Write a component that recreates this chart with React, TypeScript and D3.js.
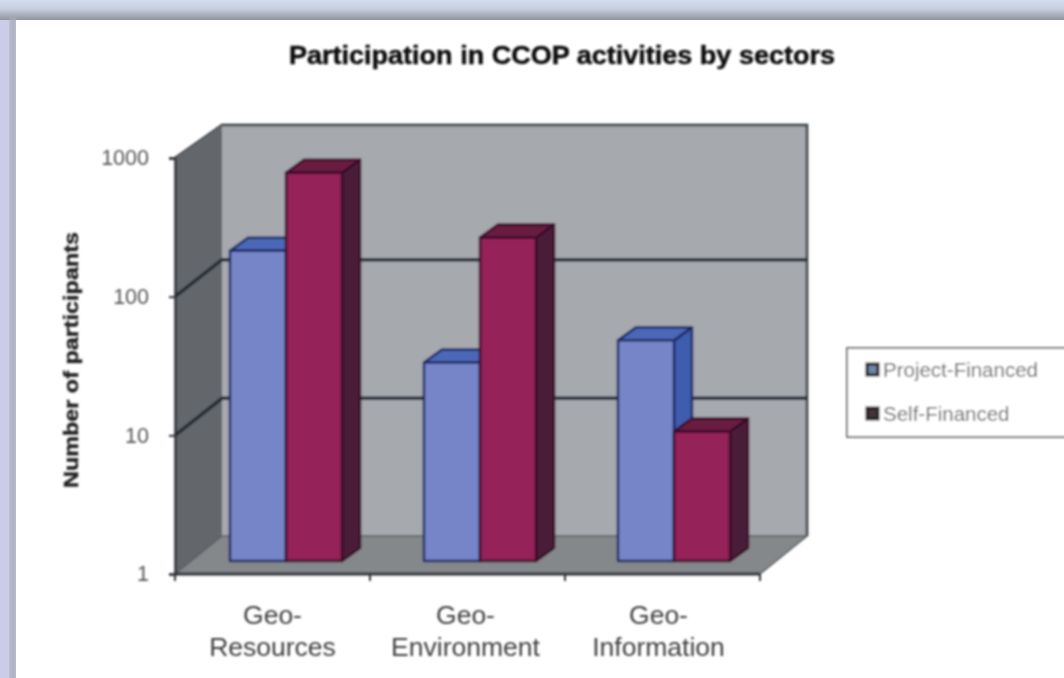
import * as d3 from "d3";
import { useEffect, useRef } from "react";

const title = "Participation in CCOP activities by sectors";
const yLabel = "Number of participants";
const categories = ["Geo-Resources", "Geo-Environment", "Geo-Information"];
const seriesNames = ["Project-Financed", "Self-Financed"];
const projectFinanced = [173, 27, 39];
const selfFinanced = [630, 215, 8.6];
const yTicks = [1, 10, 100, 1000];

const colors = [
  { front: "#7585c8", top: "#4c68b8", side: "#3f5cae", line: "#1d2a66", swatch: "#6f86a8" },
  { front: "#952458", top: "#6a1a40", side: "#4a1c38", line: "#3a0a2a", swatch: "#44303a" },
];

const App = () => {
  const svgRef = useRef<SVGSVGElement | null>(null);

  useEffect(() => {
    const width = 1064;
    const height = 678;
    const plot = { left: 175, right: 760, top: 158, bottom: 574 };
    const wallDx = 47;
    const wallDy = -37;
    const wallTop = 125;
    const wallBottom = 536;
    const barDx = 13.5;
    const barDy = -13;
    const depthDx = 18;
    const depthDy = -13;
    const font = "'Liberation Sans', Arial, sans-serif";

    const svg = d3.select(svgRef.current);
    svg.selectAll("*").remove();

    // Soft blur, the reference is a low quality screenshot
    const defs = svg.append("defs");
    defs
      .append("filter")
      .attr("id", "soft")
      .append("feGaussianBlur")
      .attr("stdDeviation", 0.8);
    defs
      .append("filter")
      .attr("id", "softFrame")
      .append("feGaussianBlur")
      .attr("stdDeviation", 2.5);
    const frameGrad = defs
      .append("linearGradient")
      .attr("id", "frame")
      .attr("x1", 0)
      .attr("x2", 0)
      .attr("y1", 0)
      .attr("y2", 1);
    frameGrad.append("stop").attr("offset", 0).attr("stop-color", "#d5deee");
    frameGrad.append("stop").attr("offset", 0.45).attr("stop-color", "#c6cfe0");
    frameGrad.append("stop").attr("offset", 1).attr("stop-color", "#8f949c");

    // Window frame behind the chart
    const frame = svg.append("g");
    frame.append("rect").attr("width", width).attr("height", height).attr("fill", "#c9cde8");
    frame.append("rect").attr("width", width).attr("height", 20).attr("fill", "url(#frame)");
    frame
      .append("rect")
      .attr("x", 10)
      .attr("y", 16)
      .attr("width", 6)
      .attr("height", height)
      .attr("fill", "#a8acb6")
      .attr("filter", "url(#softFrame)");
    frame.append("rect").attr("x", 16).attr("y", 20).attr("width", width).attr("height", height).attr("fill", "#ffffff");

    const root = svg.append("g").attr("filter", "url(#soft)");

    // Scales
    const y = d3.scaleLog().domain([1, 1000]).range([plot.bottom, plot.top]);
    const x0 = d3.scaleBand().domain(categories).range([plot.left, plot.right]);
    const x1 = d3
      .scaleBand()
      .domain(seriesNames)
      .range([0, x0.bandwidth()])
      .paddingInner(0)
      .paddingOuter(0.74);

    const poly = (pts: [number, number][]) => pts.map((p) => p.join(",")).join(" ");

    // Back wall, side wall and floor
    root
      .append("polygon")
      .attr("points", poly([
        [plot.left + wallDx, wallTop],
        [plot.right + wallDx, wallTop],
        [plot.right + wallDx, wallBottom],
        [plot.left + wallDx, wallBottom],
      ]))
      .attr("fill", "#a6a9ae");
    root
      .append("polyline")
      .attr("points", poly([
        [plot.left, plot.top],
        [plot.left + wallDx, wallTop],
        [plot.right + wallDx, wallTop],
        [plot.right + wallDx, wallBottom],
      ]))
      .attr("fill", "none")
      .attr("stroke", "#33383d")
      .attr("stroke-width", 2.5);
    root
      .append("polygon")
      .attr("points", poly([
        [plot.left, plot.top],
        [plot.left + wallDx, wallTop],
        [plot.left + wallDx, wallBottom],
        [plot.left, plot.bottom],
      ]))
      .attr("fill", "#63666b");
    root
      .append("polygon")
      .attr("points", poly([
        [plot.left, plot.bottom],
        [plot.left + wallDx, wallBottom],
        [plot.right + wallDx, wallBottom],
        [plot.right, plot.bottom],
      ]))
      .attr("fill", "#85888a")
      .attr("stroke", "#5a5d60")
      .attr("stroke-width", 1.5);

    // Gridlines running over the side wall and the back wall
    yTicks
      .filter((t) => t > 1 && t < 1000)
      .forEach((t) => {
        root
          .append("polyline")
          .attr("points", poly([
            [plot.left, y(t)],
            [plot.left + wallDx, y(t) + wallDy],
            [plot.right + wallDx, y(t) + wallDy],
          ]))
          .attr("fill", "none")
          .attr("stroke", "#202c36")
          .attr("stroke-width", 3.5);
      });

    // Axes
    const yAxis = root
      .append("g")
      .attr("transform", `translate(${plot.left}, 0)`)
      .call(d3.axisLeft(y).tickValues(yTicks).tickFormat(d3.format("d")).tickSize(6).tickPadding(20));
    yAxis.select(".domain").attr("stroke", "#2f3338").attr("stroke-width", 2.5);
    yAxis.selectAll("line").attr("stroke", "#2f3338").attr("stroke-width", 2);
    yAxis
      .selectAll("text")
      .attr("font-family", font)
      .attr("font-size", 21.5)
      .attr("fill", "#555");

    const xAxis = root.append("g");
    xAxis
      .append("line")
      .attr("x1", plot.left)
      .attr("x2", plot.right)
      .attr("y1", plot.bottom)
      .attr("y2", plot.bottom)
      .attr("stroke", "#2f3338")
      .attr("stroke-width", 3);
    xAxis
      .selectAll("line.tick")
      .data([...categories.map((c) => x0(c) as number), plot.right])
      .enter()
      .append("line")
      .attr("class", "tick")
      .attr("x1", (d) => d)
      .attr("x2", (d) => d)
      .attr("y1", plot.bottom)
      .attr("y2", plot.bottom + 7)
      .attr("stroke", "#2f3338")
      .attr("stroke-width", 2);

    // Category labels, broken after the hyphen
    categories.forEach((c, i) => {
      const cx = (x0(c) as number) + x0.bandwidth() / 2 - i * 2;
      const [first, second] = c.split("-");
      const label = root
        .append("text")
        .attr("text-anchor", "middle")
        .attr("font-family", font)
        .attr("font-size", 26.5)
        .attr("fill", "#3f3f3f");
      label.append("tspan").attr("x", cx).attr("y", 624).text(`${first}-`);
      label.append("tspan").attr("x", cx).attr("y", 656).text(second);
    });

    // 3D bars
    const seriesValues = [projectFinanced, selfFinanced];
    categories.forEach((c, ci) => {
      seriesNames.forEach((s, si) => {
        const col = colors[si];
        const xl = (x0(c) as number) + (x1(s) as number) + barDx - ci;
        const xr = xl + x1.bandwidth();
        const yt = y(seriesValues[si][ci]) + barDy;
        const yb = plot.bottom + barDy;
        const g = root
          .append("g")
          .attr("stroke", col.line)
          .attr("stroke-width", 2.5)
          .attr("stroke-linejoin", "round");
        g.append("polygon")
          .attr("points", poly([
            [xr, yt],
            [xr + depthDx, yt + depthDy],
            [xr + depthDx, yb + depthDy],
            [xr, yb],
          ]))
          .attr("fill", col.side);
        g.append("polygon")
          .attr("points", poly([
            [xl, yt],
            [xl + depthDx, yt + depthDy],
            [xr + depthDx, yt + depthDy],
            [xr, yt],
          ]))
          .attr("fill", col.top);
        g.append("rect")
          .attr("x", xl)
          .attr("y", yt)
          .attr("width", x1.bandwidth())
          .attr("height", yb - yt)
          .attr("fill", col.front);
      });
    });

    // Title and y axis label
    root
      .append("text")
      .attr("x", 562)
      .attr("y", 64)
      .attr("text-anchor", "middle")
      .attr("font-family", font)
      .attr("font-size", 25)
      .attr("font-weight", "bold")
      .attr("textLength", 546)
      .attr("lengthAdjust", "spacingAndGlyphs")
      .attr("fill", "#111")
      .attr("stroke", "#111")
      .attr("stroke-width", 0.5)
      .text(title);
    root
      .append("text")
      .attr("transform", "translate(78, 360) rotate(-90)")
      .attr("text-anchor", "middle")
      .attr("font-family", font)
      .attr("font-size", 20)
      .attr("font-weight", "bold")
      .attr("textLength", 256)
      .attr("lengthAdjust", "spacingAndGlyphs")
      .attr("fill", "#222")
      .attr("stroke", "#222")
      .attr("stroke-width", 0.4)
      .text(yLabel);

    // Legend
    const legendY = d3.scalePoint().domain(seriesNames).range([370, 414]);
    root
      .append("rect")
      .attr("x", 847)
      .attr("y", 348)
      .attr("width", 240)
      .attr("height", 89)
      .attr("fill", "#fff")
      .attr("stroke", "#777")
      .attr("stroke-width", 2);
    seriesNames.forEach((s, si) => {
      const ly = legendY(s) as number;
      root
        .append("rect")
        .attr("x", 867)
        .attr("y", ly - 6)
        .attr("width", 11)
        .attr("height", 11)
        .attr("fill", colors[si].swatch)
        .attr("stroke", "#222")
        .attr("stroke-width", 3);
      root
        .append("text")
        .attr("x", 883)
        .attr("y", ly + 7)
        .attr("font-family", font)
        .attr("font-size", 20.5)
        .attr("fill", "#666")
        .text(s);
    });
  }, []);

  return (
    <svg
      ref={svgRef}
      width={1064}
      height={678}
      style={{ position: "absolute", left: 0, top: 0 }}
    />
  );
};

export default App;
